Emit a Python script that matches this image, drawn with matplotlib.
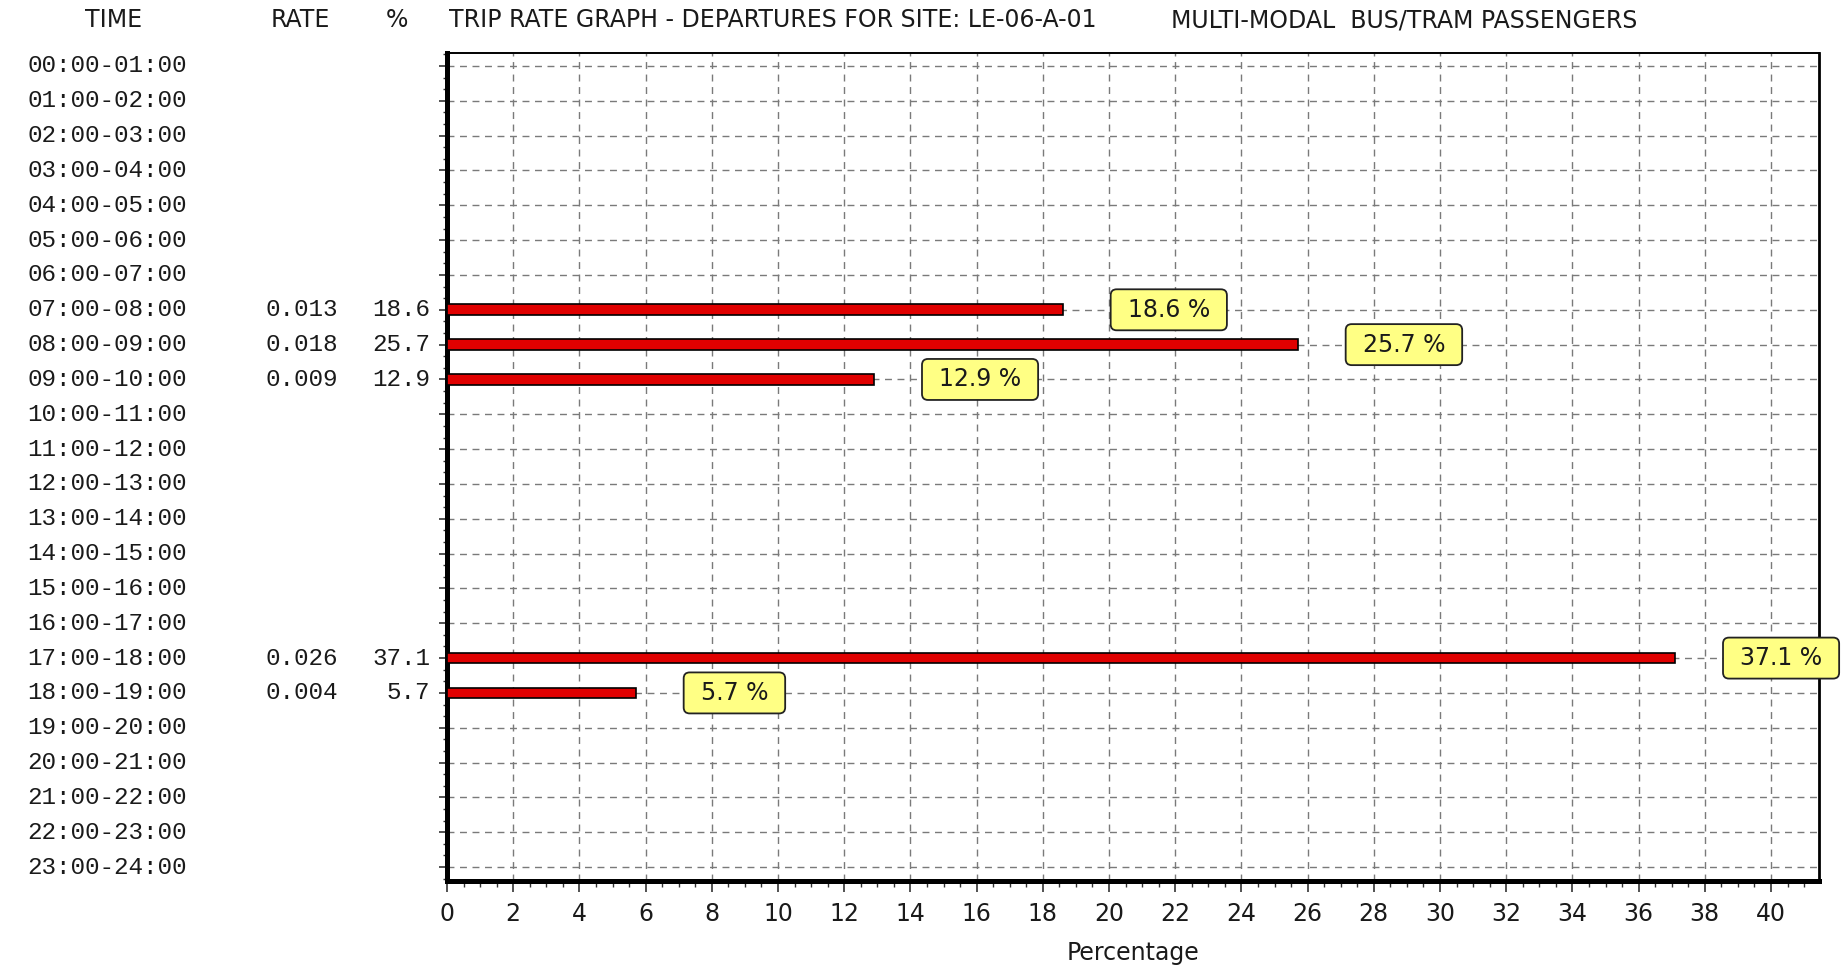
import matplotlib
matplotlib.use("Agg")
import matplotlib.pyplot as plt
import matplotlib.transforms as mtransforms
from matplotlib.patches import FancyBboxPatch
from matplotlib.ticker import MultipleLocator

# Hourly departure periods
periods = [
    "00:00-01:00", "01:00-02:00", "02:00-03:00", "03:00-04:00",
    "04:00-05:00", "05:00-06:00", "06:00-07:00", "07:00-08:00",
    "08:00-09:00", "09:00-10:00", "10:00-11:00", "11:00-12:00",
    "12:00-13:00", "13:00-14:00", "14:00-15:00", "15:00-16:00",
    "16:00-17:00", "17:00-18:00", "18:00-19:00", "19:00-20:00",
    "20:00-21:00", "21:00-22:00", "22:00-23:00", "23:00-24:00",
]
# Trip rate per period (None where no trips were recorded)
trip_rate = [None, None, None, None, None, None, None, 0.013,
             0.018, 0.009, None, None, None, None, None, None,
             None, 0.026, 0.004, None, None, None, None, None]
# Share of daily departures (%)
share_pct = [None, None, None, None, None, None, None, 18.6,
             25.7, 12.9, None, None, None, None, None, None,
             None, 37.1, 5.7, None, None, None, None, None]
x_ticks = [0, 2, 4, 6, 8, 10, 12, 14, 16, 18, 20,
           22, 24, 26, 28, 30, 32, 34, 36, 38, 40]

SANS = ["DejaVu Sans"]
MONO = ["Liberation Mono", "DejaVu Sans Mono"]
TXT = "#1a1a1a"

W, H = 1846, 967
fig = plt.figure(figsize=(W / 100, H / 100), dpi=100)
fig.patch.set_facecolor("white")

left, right, top, bottom = 447, 1819, 53, 881
ax = fig.add_axes([left / W, 1 - bottom / H, (right - left) / W, (bottom - top) / H])

rows = list(range(len(periods)))
ax.set_xlim(0, 41.45)
ax.set_ylim(23.40, -0.373)

# bars
bar_rows = [i for i in rows if share_pct[i] is not None]
bar_vals = [share_pct[i] for i in bar_rows]
ax.barh(bar_rows, bar_vals, height=0.31, color="#e00000",
        edgecolor="black", linewidth=1.2, zorder=3)

# grid
ax.set_xticks(x_ticks)
ax.xaxis.set_minor_locator(MultipleLocator(0.5))
ax.set_yticks(rows)
ax.yaxis.set_minor_locator(MultipleLocator(1 / 3))
ax.grid(True, which="major", linestyle=(0, (5, 4)), color="#7a7a7a",
        linewidth=1.0, zorder=1)
ax.set_axisbelow(True)

ax.tick_params(axis="x", which="major", direction="out", length=8,
               width=1.2, color="#333333", pad=7, labelsize=17,
               labelcolor=TXT)
ax.tick_params(axis="x", which="minor", direction="out", length=4,
               width=1.0, color="#333333")
ax.tick_params(axis="y", which="major", direction="out", length=6,
               width=1.2, color="#333333", labelleft=False)
ax.tick_params(axis="y", which="minor", direction="out", length=3,
               width=1.0, color="#333333")
for lab in ax.get_xticklabels():
    lab.set_fontfamily(SANS)

ax.set_xlabel("Percentage", fontsize=17, family=SANS, color=TXT,
              labelpad=11)

ax.spines["left"].set_linewidth(3.6)
ax.spines["bottom"].set_linewidth(3.6)
ax.spines["top"].set_linewidth(1.4)
ax.spines["right"].set_linewidth(2.0)
for s in ax.spines.values():
    s.set_color("black")

# left-hand table: period, rate, percentage
row_tf = mtransforms.blended_transform_factory(fig.transFigure, ax.transData)
for i in rows:
    ax.text(107 / W, i, periods[i], transform=row_tf, ha="center",
            va="center", fontsize=17.5, family=MONO, color=TXT, clip_on=False)
    if trip_rate[i] is not None:
        ax.text(338 / W, i, f"{trip_rate[i]:.3f}", transform=row_tf,
                ha="right", va="center", fontsize=17.5, family=MONO,
                color=TXT, clip_on=False)
    if share_pct[i] is not None:
        ax.text(430 / W, i, f"{share_pct[i]:.1f}", transform=row_tf,
                ha="right", va="center", fontsize=17.5, family=MONO,
                color=TXT, clip_on=False)

# header line
fig.text(114 / W, 1 - 20 / H, "TIME", ha="center", va="center",
         fontsize=17, family=SANS, color=TXT)
fig.text(300 / W, 1 - 20 / H, "RATE", ha="center", va="center",
         fontsize=17, family=SANS, color=TXT)
fig.text(397 / W, 1 - 20 / H, "%", ha="center", va="center",
         fontsize=17, family=SANS, color=TXT)
fig.text(449 / W, 1 - 20 / H,
         "TRIP RATE GRAPH - DEPARTURES FOR SITE: LE-06-A-01",
         ha="left", va="center", fontsize=17, family=SANS, color=TXT)
fig.text(1171 / W, 1 - 20 / H, "MULTI-MODAL  BUS/TRAM PASSENGERS",
         ha="left", va="center", fontsize=17, family=SANS, color=TXT)

# value call-outs to the right of each bar
px = 72 / 100
callouts = []
for i, v in zip(bar_rows, bar_vals):
    t = ax.annotate(f"{v:.1f} %", xy=(v, i), xytext=((48 + 17) * px, 0),
                    textcoords="offset points", ha="left", va="center",
                    fontsize=17, family=SANS, color=TXT, zorder=6,
                    annotation_clip=False)
    callouts.append((t, v, i))

fig.canvas.draw()
renderer = fig.canvas.get_renderer()
for t, v, i in callouts:
    bb = t.get_window_extent(renderer)
    x0, y0 = ax.transData.transform((v, i))
    box = FancyBboxPatch((bb.x0 - 17, y0 - 20.5), bb.width + 34, 41,
                         boxstyle="round,pad=0,rounding_size=6",
                         facecolor="#ffff84", edgecolor="#222222",
                         linewidth=1.3, transform=mtransforms.IdentityTransform(),
                         zorder=5, clip_on=False)
    ax.add_artist(box)

fig.savefig("out.png", dpi=100, facecolor="white")
